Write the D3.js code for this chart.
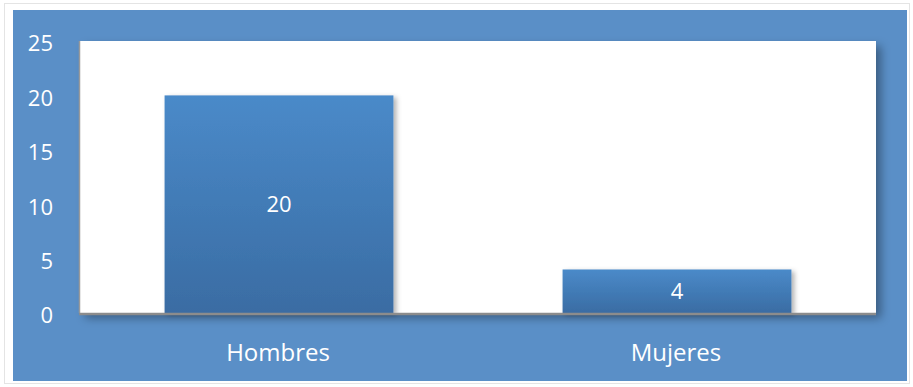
<!DOCTYPE html>
<html><head><meta charset="utf-8">
<script src="https://cdn.jsdelivr.net/npm/d3@7"></script>
<style>html,body{margin:0;padding:0;background:#fff;}svg{display:block;}</style>
</head><body>
<svg id="c" width="913" height="387"></svg>
<script>
const categories = ["Hombres", "Mujeres"];
const values = [20, 4];
const yTicks = [0, 5, 10, 15, 20, 25];

const svg = d3.select("#c");
const plot = {x0: 80, x1: 876, y0: 41, y1: 313};
const font = "'Open Sans', sans-serif";

const defs = svg.append("defs");
const g1 = defs.append("linearGradient").attr("id","barg").attr("x1",0).attr("y1",0).attr("x2",0).attr("y2",1);
g1.append("stop").attr("offset","0%").attr("stop-color","#4a8ac9");
g1.append("stop").attr("offset","100%").attr("stop-color","#3a6ca3");
const f = defs.append("filter").attr("id","sh").attr("x","-10%").attr("y","-10%").attr("width","130%").attr("height","130%");
f.append("feDropShadow").attr("dx",5).attr("dy",5).attr("stdDeviation",5).attr("flood-color","#000").attr("flood-opacity",0.35);
const f2 = defs.append("filter").attr("id","sh2").attr("x","-10%").attr("y","-10%").attr("width","130%").attr("height","130%");
f2.append("feDropShadow").attr("dx",3).attr("dy",2).attr("stdDeviation",2.5).attr("flood-color","#000").attr("flood-opacity",0.3);

// outer faint border
svg.append("rect").attr("x",4.5).attr("y",3.5).attr("width",905).attr("height",380)
  .attr("fill","#fff").attr("stroke","#e4e4e4");
// blue chart area
svg.append("rect").attr("x",13).attr("y",10).attr("width",894).attr("height",371).attr("fill","#5a8fc7");

// plot area
svg.append("rect").attr("x",plot.x0).attr("y",plot.y0).attr("width",plot.x1-plot.x0).attr("height",plot.y1-plot.y0)
  .attr("fill","#fff").attr("filter","url(#sh)");
svg.append("line").attr("x1",plot.x0-0.5).attr("x2",plot.x0-0.5).attr("y1",plot.y0).attr("y2",plot.y1)
  .attr("stroke","#9a9a9a").attr("stroke-width",1.5);

const x = d3.scaleBand().domain(categories).range([plot.x0, plot.x1]).paddingInner(0.425).paddingOuter(0.2125);
const y = d3.scaleLinear().domain([0, 25]).range([plot.y1, plot.y0]);

svg.selectAll("rect.bar").data(values).join("rect").attr("class","bar")
  .attr("x",(d,i)=>x(categories[i])).attr("width",x.bandwidth())
  .attr("y",d=>y(d)).attr("height",d=>y(0)-y(d))
  .attr("fill","url(#barg)").attr("filter","url(#sh2)");

svg.append("line").attr("x1",plot.x0-1).attr("x2",plot.x1).attr("y1",plot.y1+1).attr("y2",plot.y1+1)
  .attr("stroke","#8c8c8c").attr("stroke-width",2.5);

// y axis
const yAxis = d3.axisLeft(y).tickValues(yTicks).tickSize(0).tickPadding(0);
const ya = svg.append("g").attr("transform","translate(53,2)").call(yAxis);
ya.select(".domain").remove();
ya.selectAll("text").attr("fill","#fff").attr("font-family",font).attr("font-size",22).attr("dy","0.36em");

// x axis
const xAxis = d3.axisBottom(x).tickSize(0).tickPadding(0);
const xa = svg.append("g").attr("transform","translate(-1,361)").call(xAxis);
xa.select(".domain").remove();
xa.selectAll("text").attr("fill","#fff").attr("font-family",font).attr("font-size",24).attr("dy","0");

// data labels
svg.selectAll("text.lbl").data(values).join("text").attr("class","lbl")
  .attr("x",(d,i)=>x(categories[i])+x.bandwidth()/2)
  .attr("y",d=>(y(d)+y(0))/2).attr("dy","0.36em")
  .attr("text-anchor","middle").attr("fill","#fff").attr("font-family",font).attr("font-size",22)
  .text(d=>d);
</script>
</body></html>
